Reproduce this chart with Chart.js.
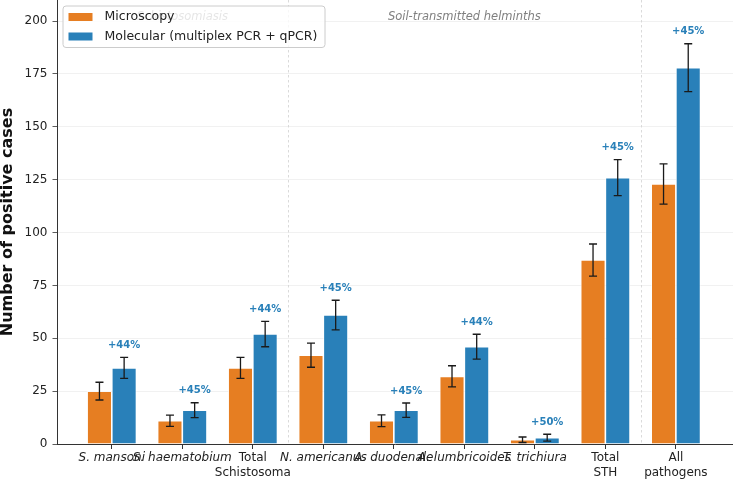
<!DOCTYPE html>
<html>
<head>
<meta charset="utf-8">
<script src="https://cdn.jsdelivr.net/npm/chart.js@4"></script>
<style>
  html, body { margin: 0; padding: 0; background: #fff; }
  #wrap { width: 733px; height: 479px; position: relative; }
</style>
</head>
<body>
<div id="wrap"><canvas id="chart1"></canvas></div>
<script>
// positive cases per pathogen, microscopy vs molecular

const categories = ['S. mansoni', 'S. haematobium', ['Total', 'Schistosoma'], 'N. americanus', 'A. duodenale',
	'A. lumbricoides', 'T. trichiura', ['Total', 'STH'], ['All', 'pathogens']];
const microscopy = [25, 11, 36, 42, 11, 32, 2, 87, 123];
const microscopyErr = [4.2, 2.7, 5.0, 5.7, 2.8, 5.0, 1.3, 7.6, 9.5];
const molecular = [36, 16, 52, 61, 16, 46, 3, 126, 178];
const molecularErr = [5.0, 3.5, 6.0, 7.0, 3.4, 5.9, 1.6, 8.5, 11.3];
const gainLabels = ['+44%', '+45%', '+44%', '+45%', '+45%', '+44%', '+50%', '+45%', '+45%'];
const yTicks = [0, 25, 50, 75, 100, 125, 150, 175, 200];
const groups = [
	{ text: 'Schistosomiasis', at: 1 },
	{ text: 'Soil-transmitted helminths', at: 5 }
];
const separators = [2.5, 7.5];
const seriesNames = ['Microscopy', 'Molecular (multiplex PCR + qPCR)'];

const ORANGE = '#e67e22';
const BLUE = '#2980b9';
const FONT = "'DejaVu Sans', sans-serif";

const toPoints = (arr) => arr.map((v, i) => ({ x: i, y: v }));

// dashed group separators + group titles, under the bars
const backdrop = {
	id: 'backdrop',
	beforeDatasetsDraw(chart) {
		const { ctx, chartArea, scales: { x, y } } = chart;
		ctx.save();
		ctx.strokeStyle = '#d0d0d0';
		ctx.lineWidth = 0.8;
		ctx.setLineDash([2.5, 2.5]);
		separators.forEach(s => {
			const px = Math.round(x.getPixelForValue(s)) + 0.5;
			ctx.beginPath();
			ctx.moveTo(px, chartArea.top);
			ctx.lineTo(px, chartArea.bottom);
			ctx.stroke();
		});
		ctx.setLineDash([]);
		ctx.fillStyle = '#808080';
		ctx.font = 'italic 11.5px ' + FONT;
		ctx.textAlign = 'center';
		ctx.textBaseline = 'middle';
		groups.forEach(g => {
			ctx.fillText(g.text, x.getPixelForValue(g.at), y.getPixelForValue(202));
		});
		ctx.restore();
	}
};

// error bars and % gain labels
const errorBars = {
	id: 'errorBars',
	afterDatasetsDraw(chart) {
		const { ctx, scales: { y } } = chart;
		const errs = [microscopyErr, molecularErr];
		const vals = [microscopy, molecular];
		ctx.save();
		ctx.strokeStyle = '#1a1a1a';
		ctx.lineWidth = 1.3;
		chart.data.datasets.forEach((ds, di) => {
			const meta = chart.getDatasetMeta(di);
			meta.data.forEach((bar, i) => {
				const top = y.getPixelForValue(vals[di][i] + errs[di][i]);
				const bot = y.getPixelForValue(vals[di][i] - errs[di][i]);
				const cx = bar.x;
				ctx.beginPath();
				ctx.moveTo(cx, top); ctx.lineTo(cx, bot);
				ctx.moveTo(cx - 4, top); ctx.lineTo(cx + 4, top);
				ctx.moveTo(cx - 4, bot); ctx.lineTo(cx + 4, bot);
				ctx.stroke();
				if (di === 1) {
					ctx.fillStyle = BLUE;
					ctx.font = 'bold 10px ' + FONT;
					ctx.textAlign = 'center';
					ctx.textBaseline = 'middle';
					ctx.fillText(gainLabels[i], cx, top - 12);
				}
			});
		});
		ctx.restore();
	}
};

// legend box in the upper left corner of the plot
const cornerLegend = {
	id: 'cornerLegend',
	afterDraw(chart) {
		const { ctx, chartArea } = chart;
		const bx = chartArea.left + 5.5, by = 6, bw = 262, bh = 41.5;
		ctx.save();
		ctx.fillStyle = 'rgba(255,255,255,0.8)';
		ctx.strokeStyle = '#cccccc';
		ctx.lineWidth = 1;
		ctx.beginPath();
		ctx.roundRect(bx, by, bw, bh, 3);
		ctx.fill();
		ctx.stroke();
		const colors = [ORANGE, BLUE];
		ctx.font = '12.5px ' + FONT;
		ctx.textBaseline = 'middle';
		ctx.textAlign = 'left';
		seriesNames.forEach((name, i) => {
			const cy = by + 11 + i * 19.5;
			ctx.fillStyle = colors[i];
			ctx.fillRect(bx + 5.5, cy - 4, 24, 8);
			ctx.fillStyle = '#222';
			ctx.fillText(name, bx + 41.5, cy);
		});
		ctx.restore();
	}
};

new Chart(document.getElementById('chart1'), {
	type: 'bar',
	data: {
		datasets: [{
			label: seriesNames[0],
			data: toPoints(microscopy),
			backgroundColor: ORANGE,
			borderColor: '#ffffff',
			borderWidth: 0.8,
			categoryPercentage: 0.7,
			barPercentage: 1.0
		}, {
			label: seriesNames[1],
			data: toPoints(molecular),
			backgroundColor: BLUE,
			borderColor: '#ffffff',
			borderWidth: 0.8,
			categoryPercentage: 0.7,
			barPercentage: 1.0
		}]
	},
	options: {
		responsive: true,
		maintainAspectRatio: false,
		animation: false,
		layout: { padding: 0 },
		plugins: {
			legend: { display: false },
			tooltip: { enabled: false }
		},
		scales: {
			x: {
				type: 'linear',
				min: -0.77,
				max: 8.81,
				offset: false,
				afterBuildTicks: (scale) => { scale.ticks = categories.map((_, i) => ({ value: i })); },
				afterFit: (scale) => {
					scale.height = 35;
					scale.paddingLeft = 0;
					scale.paddingRight = 0;
				},
				grid: { offset: false, drawOnChartArea: false, drawTicks: true, tickLength: 5, tickColor: '#333' },
				border: { color: '#333', width: 1 },
				ticks: {
					autoSkip: false,
					maxRotation: 0,
					minRotation: 0,
					padding: 2,
					color: '#222',
					callback: (v) => categories[v],
					font: (c) => ({
						family: FONT,
						size: 12,
						lineHeight: 1.2,
						style: Array.isArray(categories[c.index]) ? 'normal' : 'italic'
					})
				}
			},
			y: {
				min: 0,
				max: 210,
				afterBuildTicks: (scale) => { scale.ticks = yTicks.map(v => ({ value: v })); },
				afterFit: (scale) => {
					scale.width = 57.5;
					scale.paddingTop = 0;
					scale.paddingBottom = 0;
				},
				grid: { color: 'rgba(0,0,0,0.07)', lineWidth: 0.8, drawTicks: true, tickLength: 5, tickColor: '#333' },
				border: { color: '#333', width: 1 },
				ticks: {
					padding: 5,
					color: '#222',
					font: { family: FONT, size: 12 }
				},
				title: {
					display: true,
					text: 'Number of positive cases',
					color: '#111',
					padding: 0,
					font: { family: FONT, size: 16, weight: 'bold', lineHeight: 1 }
				}
			}
		}
	},
	plugins: [backdrop, errorBars, cornerLegend]
});
</script>
</body>
</html>
